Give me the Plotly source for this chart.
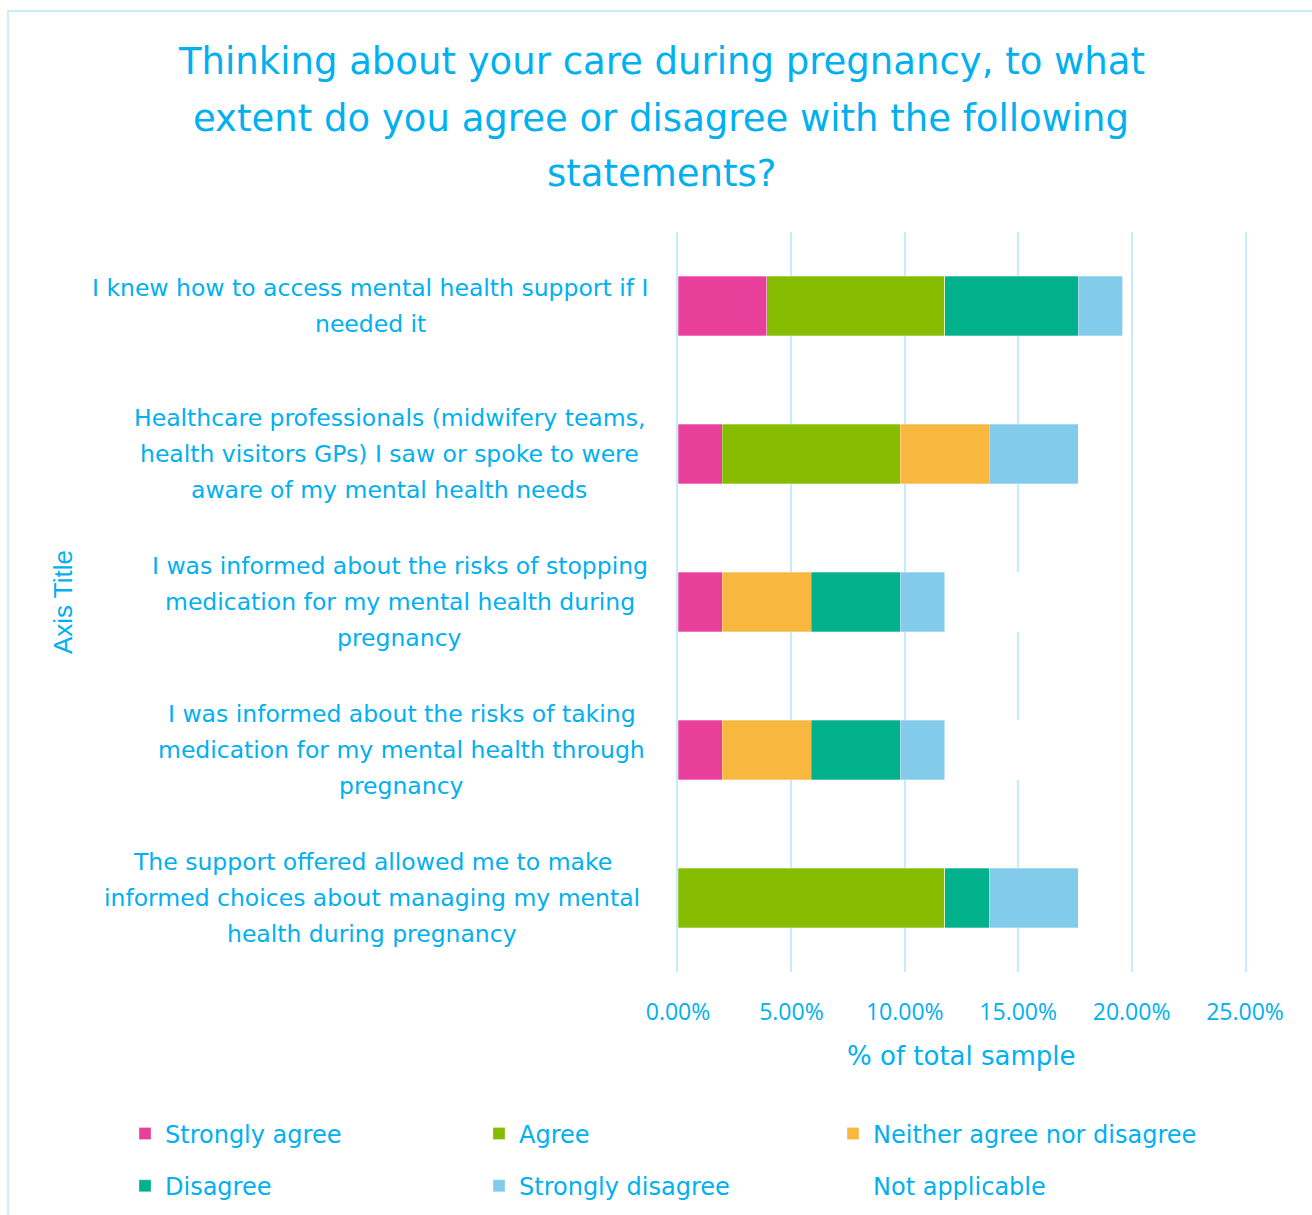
import plotly.graph_objects as go

categories = [
    "I knew how to access mental health support if I needed it",
    "Healthcare professionals (midwifery teams, health visitors GPs) I saw or spoke to were aware of my mental health needs",
    "I was informed about the risks of stopping medication for my mental health during pregnancy",
    "I was informed about the risks of taking medication for my mental health through pregnancy",
    "The support offered allowed me to make informed choices about managing my mental health during pregnancy",
]
category_lines = [
    ["I knew how to access mental health support if I", "needed it"],
    ["Healthcare professionals (midwifery teams,", "health visitors GPs) I saw or spoke to were", "aware of my mental health needs"],
    ["I was informed about the risks of stopping", "medication for my mental health during", "pregnancy"],
    ["I was informed about the risks of taking", "medication for my mental health through", "pregnancy"],
    ["The support offered allowed me to make", "informed choices about managing my mental", "health during pregnancy"],
]
label_centers_px = [370, 389.5, 399.5, 401.5, 372]

series_names = ["Strongly agree", "Agree", "Neither agree nor disagree", "Disagree", "Strongly disagree", "Not applicable"]
strongly_agree = [3.92, 1.96, 1.96, 1.96, 0.0]
agree = [7.84, 7.84, 0.0, 0.0, 11.76]
neither = [0.0, 3.92, 3.92, 3.92, 0.0]
disagree = [5.88, 0.0, 3.92, 3.92, 1.96]
strongly_disagree = [1.96, 3.92, 1.96, 1.96, 3.92]
not_applicable = [0.0, 0.0, 5.88, 5.88, 0.0]
series_values = [strongly_agree, agree, neither, disagree, strongly_disagree, not_applicable]
series_colors = ["#E8409A", "#85BC00", "#F8B83F", "#00B18C", "#82CBEB", "#FFFFFF"]

x_ticks = [0, 5, 10, 15, 20, 25]
x_tick_labels = ["0.00%", "5.00%", "10.00%", "15.00%", "20.00%", "25.00%"]

title_lines = [
    "Thinking about your care during pregnancy, to what",
    "extent do you agree or disagree with the following",
    "statements?",
]

TXT = "#00B0F0"
FONT = "DejaVu Sans"
TICKFONT = "Open Sans"
GRID = "#C6ECFB"

W, H = 1312, 1215
L, R = 678, 1245
T, B = 232, 972
pw, ph = R - L, B - T

def px_x(p):
    return (p - L) / pw

def px_y(p):
    return (B - p) / ph

legend_ids = ["legend", "legend2", "legend3"]

fig = go.Figure()
for i, (name, vals, col) in enumerate(zip(series_names, series_values, series_colors)):
    fig.add_trace(go.Bar(
        y=categories, x=vals, name=name, orientation="h",
        marker=dict(color=col, line=dict(color="rgba(255,255,255,0.5)", width=0.6)),
        legend=legend_ids[i % 3], legendgroup=name,
        hoverinfo="skip",
    ))

annotations = []
for k, line in enumerate(title_lines):
    annotations.append(dict(
        text=line, xref="paper", yref="paper", x=px_x(661), y=px_y(62 + 56 * k),
        xanchor="center", yanchor="middle", showarrow=False,
        font=dict(family=FONT, size=37, color=TXT),
    ))

for cat, lines, cx in zip(categories, category_lines, label_centers_px):
    n = len(lines)
    for i, line in enumerate(lines):
        annotations.append(dict(
            text=line, xref="paper", yref="y", x=px_x(cx), y=cat,
            yshift=((n - 1) / 2 - i) * 36,
            xanchor="center", yanchor="middle", showarrow=False,
            font=dict(family=FONT, size=23.5, color=TXT),
        ))

annotations.append(dict(
    text="Axis Title", xref="paper", yref="paper", x=px_x(63), y=px_y(602),
    xanchor="center", yanchor="middle", textangle=-90, showarrow=False,
    font=dict(family="Liberation Sans, Arial", size=26, color=TXT),
))
annotations.append(dict(
    text="% of total sample", xref="paper", yref="paper", x=0.5, y=px_y(1056),
    xanchor="center", yanchor="middle", showarrow=False,
    font=dict(family=FONT, size=26, color=TXT),
))

legend_common = dict(
    orientation="v", yanchor="middle", xanchor="left", traceorder="grouped",
    tracegroupgap=18, font=dict(family=FONT, size=24, color=TXT),
    bgcolor="rgba(0,0,0,0)",
)

fig.update_layout(
    width=W, height=H,
    margin=dict(l=L, r=W - R, t=T, b=H - B, autoexpand=False),
    paper_bgcolor="white", plot_bgcolor="white",
    barmode="stack", bargap=0.6,
    font=dict(family=FONT, color=TXT, size=24),
    xaxis=dict(
        range=[0, 25], tickvals=x_ticks, ticktext=x_tick_labels,
        showgrid=True, gridcolor=GRID, gridwidth=2,
        zeroline=False, showline=False, ticks="",
        ticklabelstandoff=24,
        tickfont=dict(family=TICKFONT, size=23, color=TXT),
        fixedrange=True,
    ),
    yaxis=dict(
        categoryorder="array", categoryarray=categories, autorange="reversed",
        showticklabels=False, showgrid=False, zeroline=False,
        showline=True, mirror=True, linecolor=GRID, linewidth=2, ticks="",
        fixedrange=True,
    ),
    legend=dict(x=px_x(125), y=px_y(1160), **legend_common),
    legend2=dict(x=px_x(479), y=px_y(1160), **legend_common),
    legend3=dict(x=px_x(833), y=px_y(1160), **legend_common),
    annotations=annotations,
    shapes=[dict(
        type="rect", xref="paper", yref="paper",
        x0=px_x(8), x1=px_x(1330), y0=px_y(1240), y1=px_y(11),
        line=dict(color="#C8EEFC", width=2), fillcolor="rgba(0,0,0,0)", layer="below",
    )],
)

fig.write_html("out.html")
